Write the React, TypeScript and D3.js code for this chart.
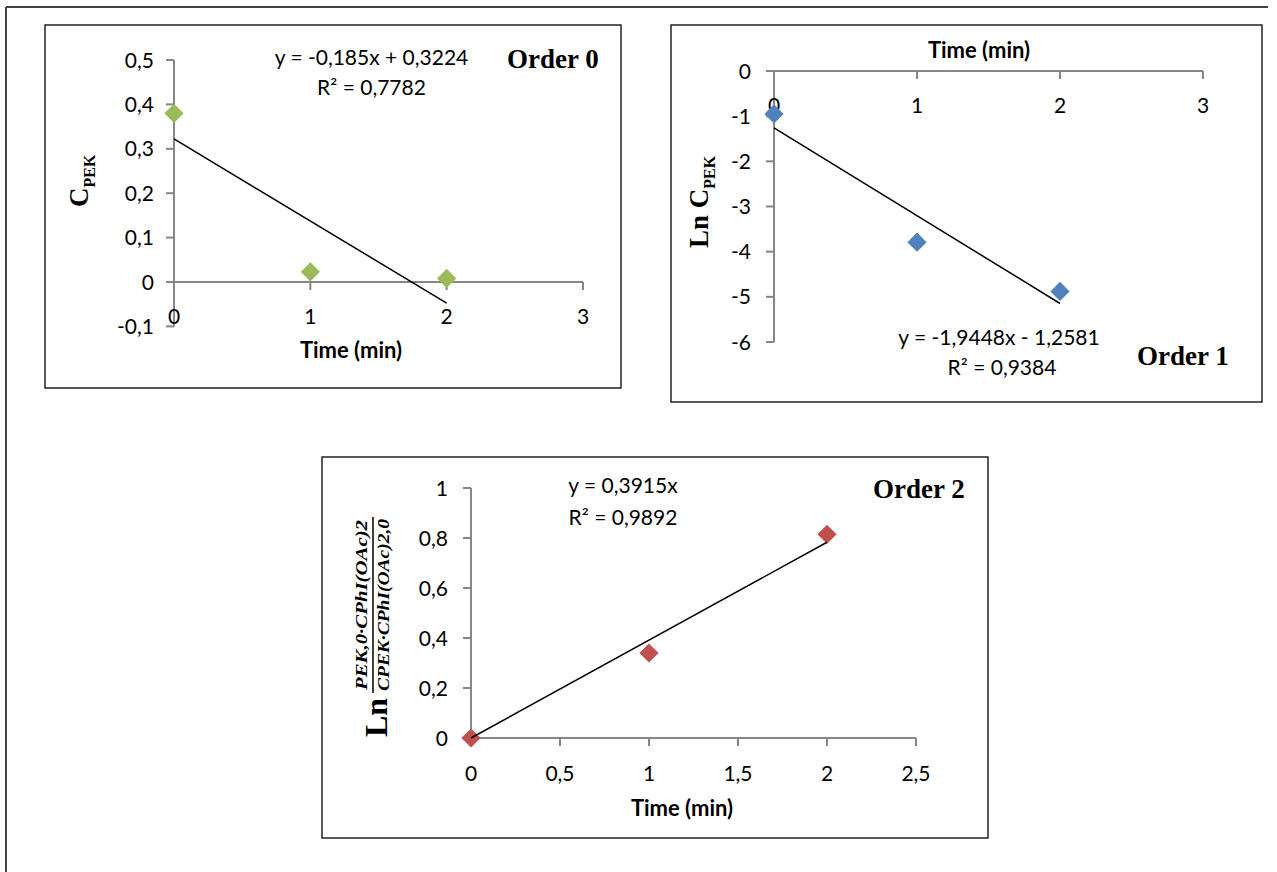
import React from 'react';
import * as d3 from 'd3';

// measured data (time in min)
const timeMin = [0, 1, 2];
const order0Conc = [0.38, 0.023, 0.008];
const order1LnConc = [-0.95, -3.79, -4.88];
const order2Value = [0, 0.34, 0.815];

// trendlines: [slope, intercept]
const order0Fit = [-0.185, 0.3224];
const order1Fit = [-1.9448, -1.2581];
const order2Fit = [0.3915, 0];

const order0YTicks = [-0.1, 0, 0.1, 0.2, 0.3, 0.4, 0.5];
const order0XTicks = [0, 1, 2, 3];
const order1YTicks = [0, -1, -2, -3, -4, -5, -6];
const order1XTicks = [0, 1, 2, 3];
const order2YTicks = [0, 0.2, 0.4, 0.6, 0.8, 1];
const order2XTicks = [0, 0.5, 1, 1.5, 2, 2.5];

const sans = 'Lato, "Open Sans", sans-serif';
const serif = '"Liberation Serif", "DejaVu Serif", serif';
const axisGrey = '#868686';

const fmt = (v: number) => String(+v.toFixed(2)).replace('.', ',');
const diamond = d3.symbol(d3.symbolSquare, 185)();

type PanelProps = {
  x: d3.ScaleLinear<number, number>;
  y: d3.ScaleLinear<number, number>;
  xTicks: number[];
  yTicks: number[];
  xLabelY: number;
  yLabelX: number;
  values: number[];
  fit: number[];
  color: string;
};

const Panel = ({ x, y, xTicks, yTicks, xLabelY, yLabelX, values, fit, color }: PanelProps) => {
  const [y0, y1] = y.range();
  const [x0, x1] = x.range();
  const ax = x(0);
  const ay = y(0);
  const line = d3.line<number>().x((t) => x(t)).y((t) => y(fit[0] * t + fit[1]));
  return (
    <g>
      {/* y axis */}
      <line x1={ax} x2={ax} y1={y0} y2={y1} stroke={axisGrey} strokeWidth={2} />
      {yTicks.map((t) => (
        <g key={'y' + t}>
          <line x1={ax - 8} x2={ax} y1={y(t)} y2={y(t)} stroke={axisGrey} strokeWidth={2} />
          <text x={yLabelX} y={y(t) + 7.5} textAnchor="end" fontFamily={sans} fontSize={21}>
            {fmt(t)}
          </text>
        </g>
      ))}
      {/* x axis */}
      <line x1={x0} x2={x1} y1={ay} y2={ay} stroke={axisGrey} strokeWidth={2} />
      {xTicks.map((t) => (
        <g key={'x' + t}>
          <line x1={x(t)} x2={x(t)} y1={ay} y2={ay + 8} stroke={axisGrey} strokeWidth={2} />
          <text x={x(t)} y={xLabelY} textAnchor="middle" fontFamily={sans} fontSize={21}>
            {fmt(t)}
          </text>
        </g>
      ))}
      {values.map((v, i) => (
        <path
          key={'p' + i}
          d={diamond || ''}
          transform={`translate(${x(timeMin[i])},${y(v)}) rotate(45)`}
          fill={color}
        />
      ))}
      <path d={line([0, 2]) || ''} stroke="#000" strokeWidth={1.5} fill="none" />
    </g>
  );
};

const App = () => {
  const x0s = d3.scaleLinear().domain([0, 3]).range([174, 583]);
  const y0s = d3.scaleLinear().domain([-0.1, 0.5]).range([326.4, 60]);
  const x1s = d3.scaleLinear().domain([0, 3]).range([774, 1203]);
  const y1s = d3.scaleLinear().domain([-6, 0]).range([342, 71]);
  const x2s = d3.scaleLinear().domain([0, 2.5]).range([471, 916]);
  const y2s = d3.scaleLinear().domain([0, 1]).range([738, 488]);

  return (
    <div style={{ position: 'absolute', left: 0, top: 0 }}>
      <svg width={1277} height={872} style={{ display: 'block', background: '#fff' }}>
        {/* page frame */}
        <line x1={6} x2={1268} y1={7} y2={7} stroke="#444" strokeWidth={2} />
        <line x1={6} x2={6} y1={7} y2={872} stroke="#444" strokeWidth={2} />

        {/* Order 0 */}
        <rect x={45} y={25} width={576} height={363} fill="#fff" stroke="#000" strokeWidth={1.3} />
        <Panel x={x0s} y={y0s} xTicks={order0XTicks} yTicks={order0YTicks} xLabelY={324} yLabelX={154}
          values={order0Conc} fit={order0Fit} color="#9BBB59" />
        <text x={351} y={358} textAnchor="middle" fontFamily={sans} fontWeight="bold" fontSize={22}>Time (min)</text>
        <text transform="translate(88,207) rotate(-90)" fontFamily={serif} fontWeight="bold" fontSize={27}>
          C<tspan fontSize={16} dy={7}>PEK</tspan>
        </text>
        <text x={371.5} y={65} textAnchor="middle" fontFamily={sans} fontSize={21}>y = -0,185x + 0,3224</text>
        <text x={371.5} y={95} textAnchor="middle" fontFamily={sans} fontSize={21}>R² = 0,7782</text>
        <text x={507} y={68} fontFamily={serif} fontWeight="bold" fontSize={27}>Order 0</text>

        {/* Order 1 */}
        <rect x={671} y={25} width={591} height={377} fill="#fff" stroke="#000" strokeWidth={1.3} />
        <Panel x={x1s} y={y1s} xTicks={order1XTicks} yTicks={order1YTicks} xLabelY={113} yLabelX={751}
          values={order1LnConc} fit={order1Fit} color="#4F81BD" />
        <text x={979} y={58} textAnchor="middle" fontFamily={sans} fontWeight="bold" fontSize={22}>Time (min)</text>
        <text transform="translate(708,248) rotate(-90)" fontFamily={serif} fontWeight="bold" fontSize={27}>
          Ln C<tspan fontSize={16} dy={7}>PEK</tspan>
        </text>
        <text x={999} y={345} textAnchor="middle" fontFamily={sans} fontSize={21}>y = -1,9448x - 1,2581</text>
        <text x={1002} y={375} textAnchor="middle" fontFamily={sans} fontSize={21}>R² = 0,9384</text>
        <text x={1137} y={365} fontFamily={serif} fontWeight="bold" fontSize={27}>Order 1</text>

        {/* Order 2 */}
        <rect x={322} y={457} width={666} height={381} fill="#fff" stroke="#000" strokeWidth={1.3} />
        <Panel x={x2s} y={y2s} xTicks={order2XTicks} yTicks={order2YTicks} xLabelY={781} yLabelX={448}
          values={order2Value} fit={order2Fit} color="#C0504D" />
        <text x={682} y={816} textAnchor="middle" fontFamily={sans} fontWeight="bold" fontSize={22}>Time (min)</text>
        <text transform="translate(387,737) rotate(-90)" fontFamily={serif} fontWeight="bold" fontSize={32}>Ln</text>
        <line x1={373} x2={373} y1={517} y2={693} stroke="#000" strokeWidth={1.5} />
        <text transform="translate(367,605) rotate(-90)" textAnchor="middle" fontFamily={serif} fontWeight="bold"
          fontStyle="italic" fontSize={17} textLength={170} lengthAdjust="spacingAndGlyphs">PEK,0·CPhI(OAc)2</text>
        <text transform="translate(389,605) rotate(-90)" textAnchor="middle" fontFamily={serif} fontWeight="bold"
          fontStyle="italic" fontSize={17} textLength={172} lengthAdjust="spacingAndGlyphs">CPEK·CPhI(OAc)2,0</text>
        <text x={623} y={493} textAnchor="middle" fontFamily={sans} fontSize={21}>y = 0,3915x</text>
        <text x={623} y={525} textAnchor="middle" fontFamily={sans} fontSize={21}>R² = 0,9892</text>
        <text x={873} y={498} fontFamily={serif} fontWeight="bold" fontSize={27}>Order 2</text>
      </svg>
    </div>
  );
};

export default App;
